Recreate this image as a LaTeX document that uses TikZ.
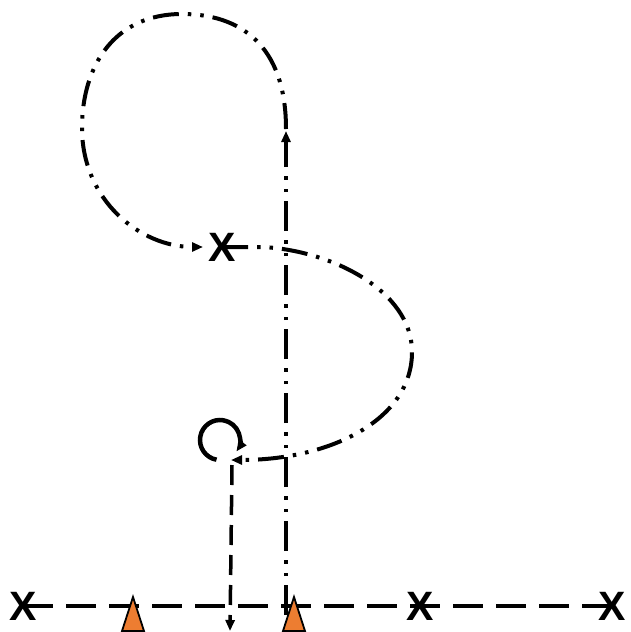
\documentclass[tikz,border=0pt]{standalone}
\usepackage{fontspec}
\setmainfont{Liberation Sans}
\usetikzlibrary{arrows.meta}
\definecolor{cone}{HTML}{ED7D31}
\tikzset{
  xmark/.style={font=\fontsize{41}{41}\selectfont\bfseries, inner sep=0pt},
  conebox/.style={fill=cone, draw=black, line width=1.8pt},
  ddot/.style={line width=4pt, dash pattern=on 26pt off 9pt on 3.5pt off 9pt on 3.5pt off 9pt},
  vddot/.style={line width=3.2pt, dash pattern=on 30pt off 9pt on 3.5pt off 9pt on 3.5pt off 9pt},
  dashline/.style={line width=3.5pt, dash pattern=on 30pt off 13pt},
  vdash/.style={line width=3.5pt, dash pattern=on 20pt off 10pt},
  tip/.style={-{Triangle[length=11pt,width=9pt]}},
}
\begin{document}
\begin{tikzpicture}[x=1pt,y=-1pt]
\useasboundingbox (0,0) rectangle (631,632);
% X marks
\node[xmark] (x1) at (23,606) {X};
\node[xmark] (x2) at (420,606) {X};
\node[xmark] (x3) at (612,606) {X};
\node[xmark] (x4) at (222,247) {X};
% horizontal dashed line
\draw[dashline] (x1.center) -- (x3.center);
% cones
\draw[conebox] (122,631) -- (133,597) -- (144,631) -- cycle;
\draw[conebox] (283,631) -- (294,597) -- (305,631) -- cycle;
% vertical dash-dot line up
\coordinate (vstart) at (286,615);
\coordinate (vtop) at (286,131);
\draw[vddot, tip] (vstart) -- (vtop);
% top loop
\coordinate (loopend) at (203,247);
\draw[ddot, tip] (286,129) .. controls (286,45) and (240,14) .. (182,14)
  .. controls (115,14) and (82,65) .. (82,128)
  .. controls (82,200) and (140,247) .. (loopend);
% S curve from X
\coordinate (send) at (231,460);
\draw[ddot, tip] (x4.center) -- (262,247) .. controls (330,250) and (412,290) .. (412,352)
  .. controls (412,420) and (330,460) .. (send);
% small circle
\coordinate (cc) at (220,440);
\draw[line width=4.5pt, tip] (cc) ++(100:20) arc[start angle=100, end angle=395, radius=20];
% dashed down line
\coordinate (dtop) at (232,465);
\coordinate (dbot) at (230,631);
\draw[vdash, tip] (dtop) -- (dbot);
\end{tikzpicture}
\end{document}
